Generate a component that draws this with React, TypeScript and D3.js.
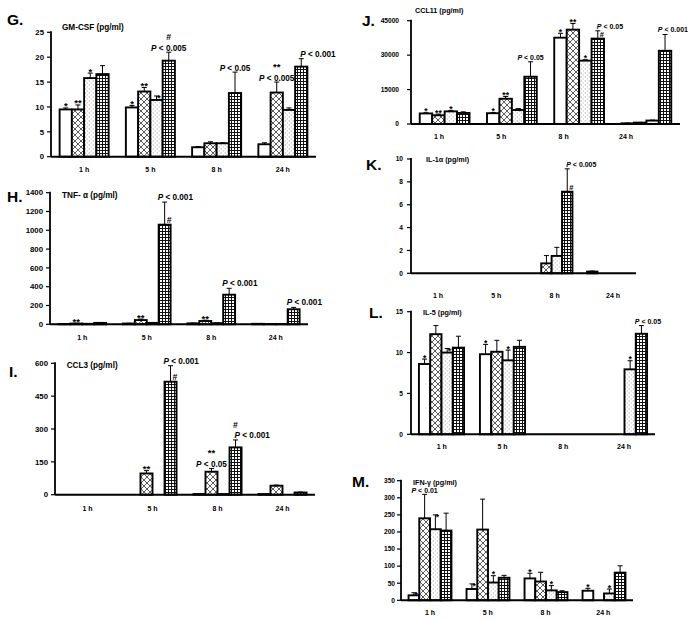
import React from 'react';
import * as d3 from 'd3';

// ---------- data ----------
const categories = ['1 h', '5 h', '8 h', '24 h'];
const seriesKeys = ['white', 'cross', 'dots', 'grid'];

// values are [series][category]
const gmcsfValues = [[9.5, 9.9, 1.9, 2.5], [9.5, 13.1, 2.7, 12.9], [15.8, 11.4, 2.7, 9.4], [16.6, 19.3, 12.8, 18.1]];
const gmcsfErrors = [[0.3, 0.4, 0.15, 0.3], [0.9, 0.8, 0.3, 2.1], [1.0, 0.8, 0.1, 0.4], [1.7, 1.7, 4.2, 1.6]];

const tnfValues = [[3, 8, 10, 5], [8, 45, 35, 3], [5, 15, 12, 2], [15, 1060, 315, 160]];
const tnfErrors = [[2, 3, 3, 2], [3, 10, 8, 1], [2, 3, 3, 1], [3, 240, 68, 20]];

const ccl3Values = [[0, 0, 3, 3], [0, 97, 105, 41], [0, 0, 3, 0], [0, 516, 216, 10]];
const ccl3Errors = [[0, 0, 0, 0], [0, 13, 15, 3], [0, 0, 0, 0], [0, 73, 34, 2]];

const ccl11Values = [[4600, 4700, 37600, 300], [3800, 11000, 41100, 600], [5500, 6100, 27600, 1500], [4800, 20600, 37200, 31900]];
const ccl11Errors = [[300, 300, 1900, 100], [500, 1000, 2700, 100], [400, 600, 400, 200], [500, 6500, 3400, 7100]];

const il1aValues = [[0, 0, 0, 0.15], [0, 0, 0.87, 0], [0, 0, 1.52, 0], [0, 0, 7.14, 0]];
const il1aErrors = [[0, 0, 0, 0.05], [0, 0, 0.68, 0], [0, 0, 0.75, 0], [0, 0, 2.0, 0]];

const il5Values = [[8.6, 9.8, 0, 0], [12.25, 10.1, 0, 0], [10.0, 9.05, 0, 7.95], [10.6, 10.7, 0, 12.3]];
const il5Errors = [[0.6, 1.2, 0, 0], [1.05, 1.4, 0, 0], [0.5, 1.25, 0, 1.05], [1.4, 0.8, 0, 1.0]];

const ifngValues = [[14.6, 33, 64, 28], [240, 207, 55, 0], [208, 52, 29, 20], [204, 66, 24, 81]];
const ifngErrors = [[7.5, 15, 15, 7], [70, 89, 27, 0], [42, 20, 14, 13], [51, 7, 4, 20]];

// annotations: [categoryIndex, seriesIndex, text, placement, row]
type Ann = [number, number, string, string, number];
const gmcsfAnn: Ann[] = [
  [0, 0, '*', 'c', 0], [0, 1, '**', 'c', 0], [0, 2, '*', 'c', 0],
  [1, 0, '*', 'c', 0], [1, 1, '**', 'c', 0], [1, 2, '*', 'sr', 0], [1, 3, 'P < 0.005', 'c', 0], [1, 3, '#', 'c', 1],
  [2, 3, 'P < 0.05', 'c', 0],
  [3, 1, 'P < 0.005', 'c', 0], [3, 1, '**', 'c', 1], [3, 3, 'P < 0.001', 'r', 0],
];
const tnfAnn: Ann[] = [
  [0, 1, '**', 'c', 0], [1, 1, '**', 'c', 0], [1, 3, 'P < 0.001', 'l', 0], [1, 3, '#', 'hash', 0],
  [2, 1, '**', 'c', 0], [2, 3, 'P < 0.001', 'l', 0], [3, 3, 'P < 0.001', 'l', 0],
];
const ccl3Ann: Ann[] = [
  [1, 1, '**', 'c', 0], [1, 3, 'P < 0.001', 'l', 0], [1, 3, '#', 'hash', 0],
  [2, 1, 'P < 0.05', 'c', 0], [2, 1, '**', 'c', 1], [2, 3, 'P < 0.001', 'r', 0], [2, 3, '#', 'c', 1],
];
const ccl11Ann: Ann[] = [
  [0, 0, '*', 'c', 0], [0, 1, '**', 'c', 0], [0, 2, '*', 'c', 0],
  [1, 0, '*', 'c', 0], [1, 1, '**', 'c', 0], [1, 2, '*', 'sr', 0], [1, 3, 'P < 0.05', 'c', 0],
  [2, 0, '*', 'c', 0], [2, 1, '**', 'c', 0], [2, 2, '*', 'c', 0], [2, 3, 'P < 0.05', 'r', 0], [2, 3, '#', 'hash', 0],
  [3, 3, 'P < 0.001', 'l', 0],
];
const il1aAnn: Ann[] = [[2, 3, 'P < 0.005', 'r', 0], [2, 3, '#', 'hash', 0]];
const il5Ann: Ann[] = [
  [0, 0, '*', 'c', 0], [0, 2, '*', 'sr', 0], [1, 0, '*', 'c', 0], [1, 2, '*', 'c', 0],
  [3, 2, '*', 'c', 0], [3, 3, 'P < 0.05', 'l', 0],
];
const ifngAnn: Ann[] = [
  [0, 0, '*', 'sr', 0], [0, 1, 'P < 0.01', 'c', 0], [0, 2, '*', 'sr', 0],
  [1, 0, '*', 'sr', 0], [1, 2, '*', 'c', 0], [2, 0, '*', 'c', 0], [2, 2, '*', 'c', 0],
  [3, 0, '*', 'c', 0], [3, 2, '*', 'c', 0],
];

// ---------- layout ----------
type PanelCfg = {
  letter: string; title: string; values: number[][]; errors: number[][]; ann: Ann[];
  yMax: number; yStep: number;
  x0: number; x1: number; yTop: number; yZero: number;
  catY: number; catRange: [number, number] | null;
  letterX: number; letterY: number; titleX: number; titleY: number;
  small: boolean; tickGap: number;
};

const panels: PanelCfg[] = [
  { letter: 'G.', title: 'GM-CSF (pg/ml)', values: gmcsfValues, errors: gmcsfErrors, ann: gmcsfAnn, yMax: 25, yStep: 5,
    x0: 51, x1: 316, yTop: 32.3, yZero: 156.7, catY: 172, catRange: null,
    letterX: 7, letterY: 25, titleX: 62, titleY: 30, small: false, tickGap: 7 },
  { letter: 'H.', title: 'TNF- α (pg/ml)', values: tnfValues, errors: tnfErrors, ann: tnfAnn, yMax: 1400, yStep: 200,
    x0: 50, x1: 308, yTop: 192.7, yZero: 324.3, catY: 339.5, catRange: null,
    letterX: 7, letterY: 201.5, titleX: 62, titleY: 198, small: false, tickGap: 7 },
  { letter: 'I.', title: 'CCL3 (pg/ml)', values: ccl3Values, errors: ccl3Errors, ann: ccl3Ann, yMax: 600, yStep: 150,
    x0: 55, x1: 315, yTop: 363.3, yZero: 494.7, catY: 510.5, catRange: null,
    letterX: 9, letterY: 377, titleX: 66.7, titleY: 368, small: false, tickGap: 7 },
  { letter: 'J.', title: 'CCL11 (pg/ml)', values: ccl11Values, errors: ccl11Errors, ann: ccl11Ann, yMax: 45000, yStep: 15000,
    x0: 411, x1: 680, yTop: 20.7, yZero: 124, catY: 138.5, catRange: [439, 626],
    letterX: 362, letterY: 26, titleX: 415, titleY: 12.5, small: true, tickGap: 12 },
  { letter: 'K.', title: 'IL-1α (pg/ml)', values: il1aValues, errors: il1aErrors, ann: il1aAnn, yMax: 10, yStep: 2,
    x0: 411, x1: 636, yTop: 159, yZero: 273.3, catY: 297.5, catRange: [438, 613],
    letterX: 366, letterY: 170, titleX: 426, titleY: 161.5, small: true, tickGap: 8 },
  { letter: 'L.', title: 'IL-5 (pg/ml)', values: il5Values, errors: il5Errors, ann: il5Ann, yMax: 15, yStep: 5,
    x0: 411, x1: 655, yTop: 311.7, yZero: 434.3, catY: 449.2, catRange: [441.7, 624],
    letterX: 369, letterY: 318, titleX: 423, titleY: 315, small: true, tickGap: 8 },
  { letter: 'M.', title: 'IFN-γ (pg/ml)', values: ifngValues, errors: ifngErrors, ann: ifngAnn, yMax: 350, yStep: 50,
    x0: 401, x1: 633, yTop: 480.7, yZero: 600.3, catY: 615, catRange: [430, 603.3],
    letterX: 352, letterY: 487, titleX: 413, titleY: 484.5, small: true, tickGap: 6 },
];

const FONT = '"Liberation Sans", Arial, Helvetica, sans-serif';
const fills = ['#ffffff', 'url(#pCross)', 'url(#pDots)', 'url(#pGrid)'];

function PText({ text, ...rest }: any) {
  if (text.startsWith('P ')) {
    return (
      <text {...rest}>
        <tspan fontStyle="italic">P</tspan>
        {text.slice(1)}
      </text>
    );
  }
  return <text {...rest}>{text}</text>;
}

function Panel({ cfg }: { cfg: PanelCfg }) {
  const y = d3.scaleLinear().domain([0, cfg.yMax]).range([cfg.yZero, cfg.yTop]);
  const xb = d3.scaleBand<string>().domain(categories).range([cfg.x0, cfg.x1]).paddingInner(0.26).paddingOuter(0.13);
  const xs = d3.scaleBand<string>().domain(seriesKeys).range([0, xb.bandwidth()]);
  const catPos = cfg.catRange
    ? d3.scalePoint<string>().domain(categories).range(cfg.catRange)
    : null;
  const ticks = d3.range(0, cfg.yMax + cfg.yStep / 2, cfg.yStep);
  const tickFs = cfg.small ? 6.6 : 7.8;
  const titleFs = cfg.small ? 7.2 : 8.2;
  const pFs = cfg.small ? 7 : 8.2;
  const starFs = cfg.small ? 8.5 : 9.5;
  const catFs = 7;
  const lineH = cfg.small ? 9.5 : 10.5;

  const barGeom = (ci: number, si: number) => {
    const left = (xb(categories[ci]) as number) + (xs(seriesKeys[si]) as number);
    const w = xs.bandwidth();
    const v = cfg.values[si][ci];
    const e = cfg.errors[si][ci];
    return { left, w, cx: left + w / 2, top: y(v), errTop: y(v + e), e };
  };

  return (
    <g>
      <text x={cfg.letterX} y={cfg.letterY} fontSize={15.5} fontWeight="bold" fontFamily={FONT}>{cfg.letter}</text>
      <text x={cfg.titleX} y={cfg.titleY} fontSize={titleFs} fontWeight="bold" fontFamily={FONT}>{cfg.title}</text>
      {ticks.map((t) => (
        <g key={t}>
          <line x1={cfg.x0 - 4} x2={cfg.x0} y1={y(t)} y2={y(t)} stroke="#000" strokeWidth={1.2} />
          <text x={cfg.x0 - cfg.tickGap} y={y(t)} dy="0.35em" textAnchor="end" fontSize={tickFs} fontWeight="bold" fontFamily={FONT}>{t}</text>
        </g>
      ))}
      {seriesKeys.map((s, si) =>
        categories.map((c, ci) => {
          const g = barGeom(ci, si);
          return (
            <g key={s + c}>
              {g.e > 0 && (
                <g stroke="#000" strokeWidth={1}>
                  <line x1={g.cx} x2={g.cx} y1={g.top} y2={g.errTop} />
                  <line x1={g.cx - 2.5} x2={g.cx + 2.5} y1={g.errTop} y2={g.errTop} />
                </g>
              )}
              <rect x={g.left} y={g.top} width={g.w} height={cfg.yZero - g.top} fill={fills[si]} stroke="#000" strokeWidth={1.9} />
            </g>
          );
        })
      )}
      <line x1={cfg.x0} x2={cfg.x0} y1={cfg.yTop - 1} y2={cfg.yZero} stroke="#000" strokeWidth={1.8} />
      <line x1={cfg.x0} x2={cfg.x1} y1={cfg.yZero} y2={cfg.yZero} stroke="#000" strokeWidth={2} />
      {categories.map((c) => (
        <text key={c} x={catPos ? (catPos(c) as number) : (xb(c) as number) + xb.bandwidth() / 2} y={cfg.catY}
          textAnchor="middle" fontSize={catFs} fontWeight="bold" fontFamily={FONT}>{c}</text>
      ))}
      {cfg.ann.map(([ci, si, text, kind, row], i) => {
        const g = barGeom(ci, si);
        const isStar = text.startsWith('*');
        const fs = text.startsWith('P') ? pFs : isStar ? starFs : pFs + 0.5;
        let x = g.cx, yy = g.errTop - 1.5 - row * lineH, anchor = 'middle';
        if (kind === 'sr') { x = g.cx + 0.5; yy = g.errTop + 5.5; anchor = 'start'; }
        else if (kind === 'r') { x = g.cx - 1; yy = g.errTop - 2 - row * lineH; anchor = 'start'; }
        else if (kind === 'l') { x = g.left - 1; yy = g.errTop - 2 - row * lineH; anchor = 'start'; }
        else if (kind === 'hash') { x = g.cx + 2; yy = g.top - 1.5; anchor = 'start'; }
        if (isStar && kind !== 'sr' && row === 0) yy += 3;
        return (
          <PText key={i} text={text} x={x} y={yy} textAnchor={anchor} fontSize={fs} fontWeight="bold" fontFamily={FONT} />
        );
      })}
    </g>
  );
}

export default function App() {
  return (
    <svg width={700} height={620} style={{ position: 'absolute', left: 0, top: 0, background: '#fff' }}>
      <defs>
        <pattern id="pCross" patternUnits="userSpaceOnUse" width={6} height={6}>
          <rect width={6} height={6} fill="#fff" />
          <path d="M0,0L6,6M6,0L0,6" stroke="#333" strokeWidth={0.8} />
        </pattern>
        <pattern id="pDots" patternUnits="userSpaceOnUse" width={4} height={4}>
          <rect width={4} height={4} fill="#fff" />
          <rect x={0.8} y={0.5} width={0.9} height={0.9} fill="#777" />
          <rect x={2.8} y={2.5} width={0.9} height={0.9} fill="#999" />
        </pattern>
        <pattern id="pGrid" patternUnits="userSpaceOnUse" width={3} height={3}>
          <rect width={3} height={3} fill="#111" />
          <rect x={1} y={1} width={2} height={2} fill="#fff" />
        </pattern>
      </defs>
      <rect width={700} height={620} fill="#fff" />
      {panels.map((p) => <Panel key={p.letter} cfg={p} />)}
    </svg>
  );
}
